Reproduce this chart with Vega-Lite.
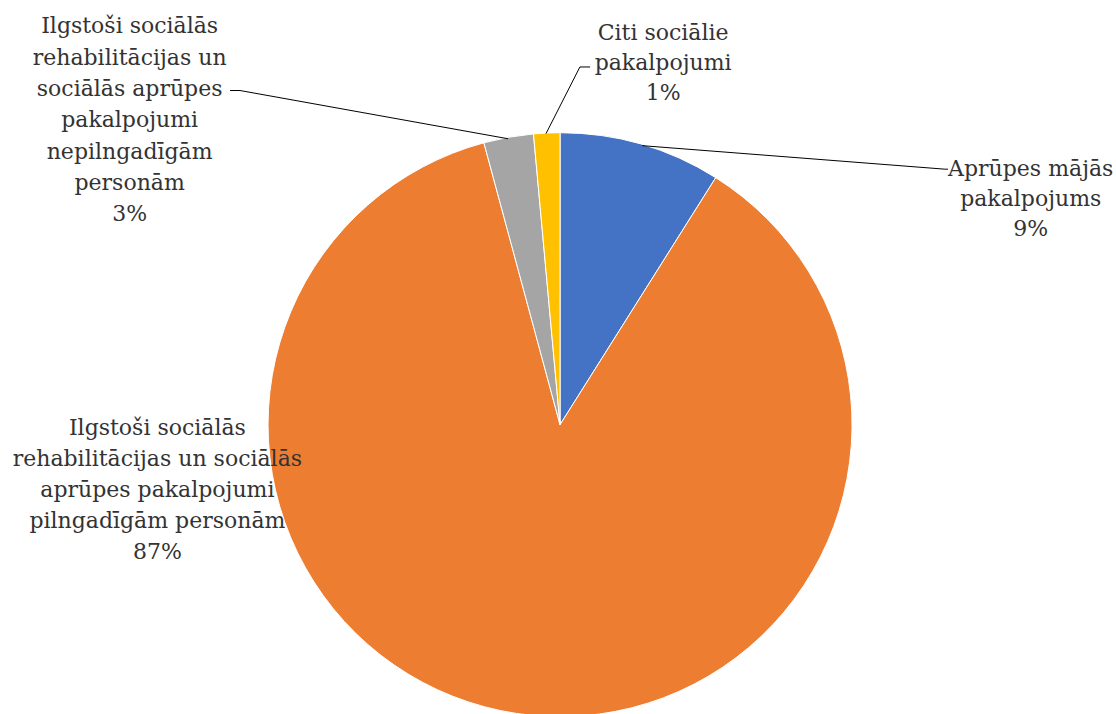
{
  "$schema": "https://vega.github.io/schema/vega-lite/v6.json",
  "width": 1116,
  "height": 714,
  "padding": 0,
  "autosize": {"type": "fit", "contains": "padding"},
  "background": "white",
  "datasets": {
    "slices": [
      {"category": "Aprūpes mājās pakalpojums", "value": 8.95, "order": 1, "lines": ["Aprūpes mājās", "pakalpojums", "9%"]},
      {"category": "Ilgstoši sociālās rehabilitācijas un sociālās aprūpes pakalpojumi pilngadīgām personām", "value": 86.85, "order": 2, "lines": ["Ilgstoši sociālās", "rehabilitācijas un sociālās", "aprūpes pakalpojumi", "pilngadīgām personām", "87%"]},
      {"category": "Ilgstoši sociālās rehabilitācijas un sociālās aprūpes pakalpojumi nepilngadīgām personām", "value": 2.75, "order": 3, "lines": ["Ilgstoši sociālās", "rehabilitācijas un", "sociālās aprūpes", "pakalpojumi", "nepilngadīgām", "personām", "3%"]},
      {"category": "Citi sociālie pakalpojumi", "value": 1.45, "order": 4, "lines": ["Citi sociālie", "pakalpojumi", "1%"]}
    ],
    "leaders": [
      {"leader": "a", "pt": 1, "x": 0.281, "y": 0.955},
      {"leader": "a", "pt": 2, "x": 1.318, "y": 0.873},
      {"leader": "a", "pt": 3, "x": 1.329, "y": 0.873},
      {"leader": "c", "pt": 1, "x": -0.178, "y": 0.979},
      {"leader": "c", "pt": 2, "x": -1.096, "y": 1.147},
      {"leader": "c", "pt": 3, "x": -1.130, "y": 1.147},
      {"leader": "d", "pt": 1, "x": -0.048, "y": 0.997},
      {"leader": "d", "pt": 2, "x": 0.068, "y": 1.229},
      {"leader": "d", "pt": 3, "x": 0.103, "y": 1.229}
    ]
  },
  "layer": [
    {
      "data": {"name": "slices"},
      "mark": {"type": "arc", "radius": 292, "stroke": "white", "strokeWidth": 1},
      "encoding": {
        "x": {"datum": 0, "type": "quantitative", "scale": {"domain": [-1.918, 1.904], "nice": false, "zero": false}, "axis": null},
        "y": {"datum": -0.017, "type": "quantitative", "scale": {"domain": [-0.9829, 1.4623], "nice": false, "zero": false}, "axis": null},
        "theta": {"field": "value", "type": "quantitative", "stack": true},
        "order": {"field": "order", "type": "quantitative"},
        "color": {
          "field": "category",
          "type": "nominal",
          "legend": null,
          "scale": {
            "domain": [
              "Aprūpes mājās pakalpojums",
              "Ilgstoši sociālās rehabilitācijas un sociālās aprūpes pakalpojumi pilngadīgām personām",
              "Ilgstoši sociālās rehabilitācijas un sociālās aprūpes pakalpojumi nepilngadīgām personām",
              "Citi sociālie pakalpojumi"
            ],
            "range": ["#4472C4", "#ED7D31", "#A5A5A5", "#FFC000"]
          }
        }
      }
    },
    {
      "data": {"name": "leaders"},
      "mark": {"type": "line", "color": "#000000", "strokeWidth": 1},
      "encoding": {
        "x": {"field": "x", "type": "quantitative"},
        "y": {"field": "y", "type": "quantitative"},
        "detail": {"field": "leader"},
        "order": {"field": "pt", "type": "quantitative"}
      }
    },
    {
      "data": {"name": "slices"},
      "transform": [{"filter": "datum.order == 1"}],
      "mark": {"type": "text", "font": "DejaVu Serif", "fontSize": 22, "lineHeight": 30, "color": "#333333", "align": "center", "baseline": "middle"},
      "encoding": {
        "x": {"datum": 1.612, "type": "quantitative"},
        "y": {"datum": 0.873, "type": "quantitative"},
        "text": {"field": "lines"}
      }
    },
    {
      "data": {"name": "slices"},
      "transform": [{"filter": "datum.order == 2"}],
      "mark": {"type": "text", "font": "DejaVu Serif", "fontSize": 22, "lineHeight": 31, "color": "#333333", "align": "center", "baseline": "middle"},
      "encoding": {
        "x": {"datum": -1.379, "type": "quantitative"},
        "y": {"datum": -0.027, "type": "quantitative"},
        "text": {"field": "lines"}
      }
    },
    {
      "data": {"name": "slices"},
      "transform": [{"filter": "datum.order == 3"}],
      "mark": {"type": "text", "font": "DejaVu Serif", "fontSize": 22, "lineHeight": 31.3, "color": "#333333", "align": "center", "baseline": "middle"},
      "encoding": {
        "x": {"datum": -1.474, "type": "quantitative"},
        "y": {"datum": 1.370, "type": "quantitative"},
        "text": {"field": "lines"}
      }
    },
    {
      "data": {"name": "slices"},
      "transform": [{"filter": "datum.order == 4"}],
      "mark": {"type": "text", "font": "DejaVu Serif", "fontSize": 22, "lineHeight": 30, "color": "#333333", "align": "center", "baseline": "middle"},
      "encoding": {
        "x": {"datum": 0.353, "type": "quantitative"},
        "y": {"datum": 1.349, "type": "quantitative"},
        "text": {"field": "lines"}
      }
    }
  ],
  "config": {"view": {"stroke": null}}
}
